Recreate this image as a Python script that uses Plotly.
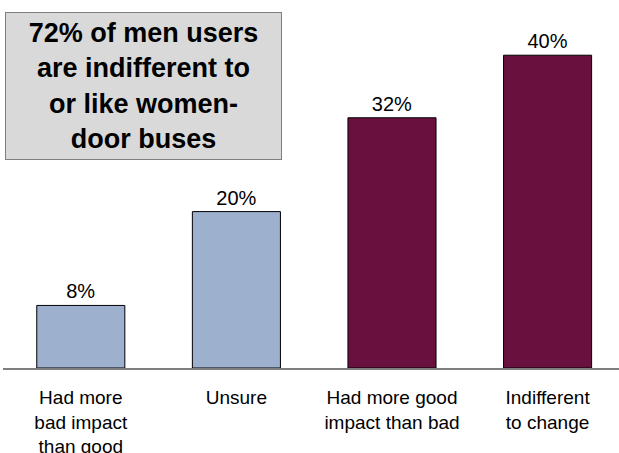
import plotly.graph_objects as go

# Survey answers from male users about women-door buses
categories = [
    "Had more<br>bad impact<br>than good",
    "Unsure",
    "Had more good<br>impact than bad",
    "Indifferent<br>to change",
]
shares = [8, 20, 32, 40]
value_labels = ["8%", "20%", "32%", "40%"]
callout_text = "72% of men users<br>are indifferent to<br>or like women-<br>door buses"

# Negative / unsure answers in blue-grey, accepting answers in maroon
bar_colors = ["#9DB0CE", "#9DB0CE", "#69103F", "#69103F"]

FONT = "Arial, 'Liberation Sans', Helvetica, sans-serif"

fig = go.Figure(
    go.Bar(
        x=list(range(len(categories))),
        y=shares,
        width=0.566,
        marker=dict(color=bar_colors, line=dict(color="#000000", width=1)),
        text=value_labels,
        textposition="outside",
        textfont=dict(family=FONT, size=20, color="#000000"),
        cliponaxis=False,
        hoverinfo="skip",
    )
)

fig.add_annotation(
    text="<b>" + callout_text + "</b>",
    xref="paper", yref="paper",
    x=0.0037, y=0.9666,
    xanchor="left", yanchor="top",
    width=275, height=146,
    align="center", valign="middle",
    showarrow=False,
    bgcolor="#D9D9D9",
    bordercolor="#7F7F7F",
    borderwidth=1,
    borderpad=0,
    font=dict(family=FONT, size=27, color="#000000"),
)

fig.update_layout(
    width=619,
    height=453,
    margin=dict(l=3, r=0, t=0, b=85),
    paper_bgcolor="#FFFFFF",
    plot_bgcolor="#FFFFFF",
    showlegend=False,
    font=dict(family=FONT, color="#000000"),
)

fig.update_xaxes(
    tickmode="array",
    tickvals=list(range(len(categories))),
    ticktext=categories,
    range=[-0.5, 3.459],
    automargin=False,
    showgrid=False,
    zeroline=False,
    showline=True,
    linecolor="#7F7F7F",
    linewidth=2,
    ticks="",
    ticklabelstandoff=11,
    tickfont=dict(family=FONT, size=19, color="#000000"),
    fixedrange=True,
)

fig.update_yaxes(
    range=[0, 47.06],
    visible=False,
    automargin=False,
    showgrid=False,
    zeroline=False,
    fixedrange=True,
)

fig.write_html("out.html", config={"displayModeBar": False})
